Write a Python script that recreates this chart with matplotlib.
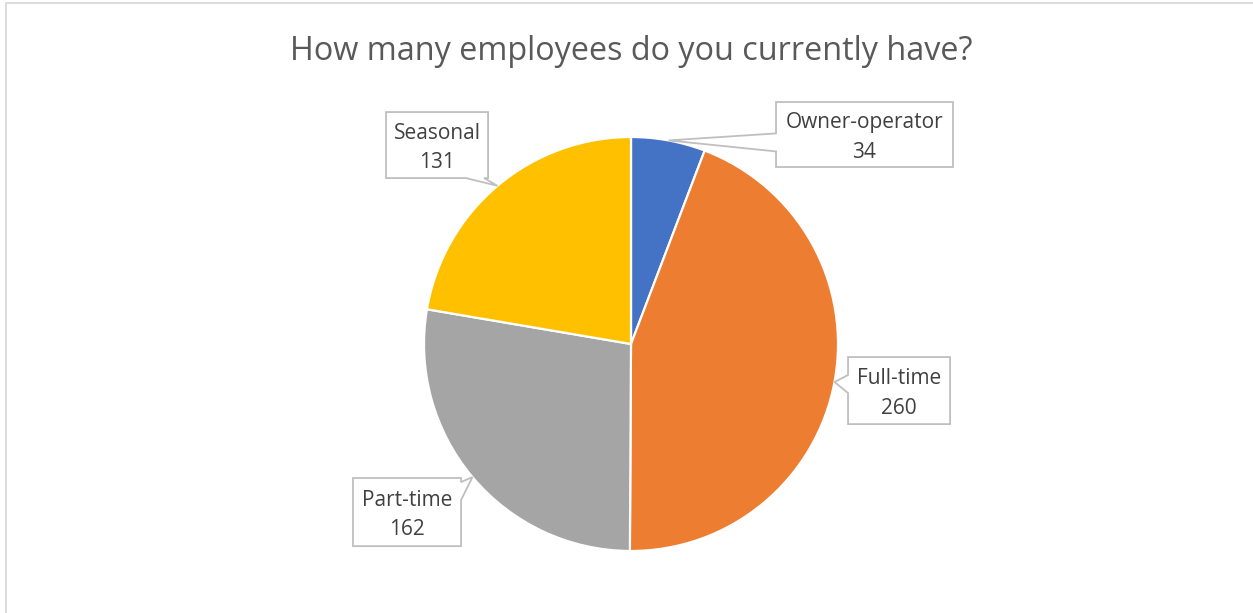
import matplotlib
matplotlib.use("Agg")
import matplotlib.pyplot as plt
from matplotlib.patches import Polygon, Rectangle
import numpy as np

# data
labels = ['Owner-operator', 'Full-time', 'Part-time', 'Seasonal']
values = [34, 260, 162, 131]
colors = ['#4472C4', '#ED7D31', '#A5A5A5', '#FFC000']
title = 'How many employees do you currently have?'

# callout layout (box center in radius units, box size, side the pointer leaves from)
box_pos = [(1.128, 1.012), (1.295, -0.225), (-1.082, -0.812), (-0.937, 0.961)]
box_size = [(0.855, 0.314), (0.493, 0.324), (0.522, 0.329), (0.493, 0.319)]
box_side = ['left', 'left', 'right', 'bottom']

plt.rcParams['font.family'] = ['Open Sans', 'DejaVu Sans']

W, H = 1253, 613
R = 207.0
cx, cy = 631, 344

fig = plt.figure(figsize=(W / 100, H / 100), dpi=100)
ax = fig.add_axes([0, 0, 1, 1])

wedges, _ = ax.pie(values, colors=colors, startangle=90, counterclock=False,
                   radius=1.0, wedgeprops=dict(edgecolor='white', linewidth=1.6))
ax.set_xlim(-cx / R, (W - cx) / R)
ax.set_ylim(-(H - cy) / R, cy / R)
ax.set_aspect('auto')
ax.axis('off')

px = 1 / R  # one pixel in data units


def callout(cxb, cyb, w, h, tip, side):
    x0, x1 = cxb - w / 2, cxb + w / 2
    y0, y1 = cyb - h / 2, cyb + h / 2
    half = 9 * px
    if side == 'left':
        p = np.clip(tip[1] - 2 * px, y0 + half + 4 * px, y1 - half - 4 * px)
        pts = [(x0, y1), (x1, y1), (x1, y0), (x0, y0),
               (x0, p - half), tip, (x0, p + half)]
    elif side == 'right':
        p = np.clip(tip[1], y0 + half + 4 * px, y1 - half - 4 * px)
        pts = [(x0, y1), (x1, y1), (x1, p + half), tip, (x1, p - half),
               (x1, y0), (x0, y0)]
    else:  # bottom
        p = np.clip(tip[0], x0 + half + 4 * px, x1 - half - 4 * px)
        pts = [(x0, y1), (x1, y1), (x1, y0), (p + half, y0), tip,
               (p - half, y0), (x0, y0)]
    return Polygon(pts, closed=True, facecolor='white', edgecolor='#BFBFBF',
                   linewidth=1.3, zorder=5)


for wdg, lab, val, pos, size, side in zip(wedges, labels, values, box_pos, box_size, box_side):
    mid = np.deg2rad((wdg.theta1 + wdg.theta2) / 2)
    tip = (np.cos(mid), np.sin(mid))
    ax.add_patch(callout(pos[0], pos[1], size[0], size[1], tip, side))
    ax.text(pos[0], pos[1] + 12 * px, lab, ha='center', va='center',
            fontsize=15, color='#404040', zorder=6)
    ax.text(pos[0], pos[1] - 17.5 * px, str(val), ha='center', va='center',
            fontsize=15, color='#404040', zorder=6)

fig.text(631 / W, 1 - 51 / H, title, ha='center', va='center',
         fontsize=23.3, color='#595959')

# chart area border
fig.patches.append(Rectangle((6 / W, -0.1), 1.2, 1 - 2.5 / H + 0.1, transform=fig.transFigure,
                             fill=False, edgecolor='#D9D9D9', linewidth=1.3))

fig.savefig('out.png', dpi=100, facecolor='white')
